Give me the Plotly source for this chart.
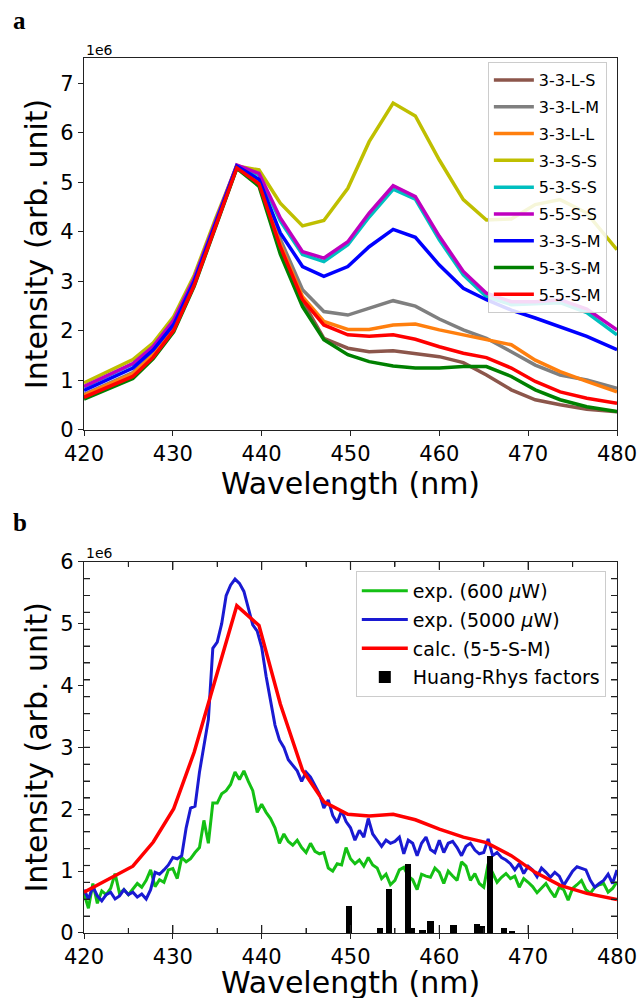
import plotly.graph_objects as go

# ---------------- panel a data (values in units of 1e6) ----------------
wl_calc = [420.0, 422.9, 425.5, 427.8, 430.1, 432.4, 434.8, 437.2, 439.7, 442.1, 444.6, 447.0,
           449.7, 452.1, 454.8, 457.3, 460.0, 462.7, 465.3, 468.1, 470.8, 473.6, 476.6, 480.0]

s_33LS = [0.68, 0.90, 1.11, 1.50, 2.04, 2.95, 4.14, 5.30, 4.97, 3.65, 2.60, 1.85,
          1.65, 1.58, 1.60, 1.55, 1.48, 1.36, 1.11, 0.81, 0.61, 0.51, 0.42, 0.37]
s_33LM = [0.72, 0.95, 1.16, 1.54, 2.08, 2.97, 4.16, 5.31, 5.00, 3.85, 2.83, 2.39,
          2.32, 2.46, 2.61, 2.50, 2.24, 2.02, 1.85, 1.58, 1.31, 1.11, 1.01, 0.84]
s_33LL = [0.70, 0.93, 1.14, 1.52, 2.06, 2.96, 4.15, 5.30, 4.98, 3.75, 2.69, 2.19,
          2.03, 2.03, 2.12, 2.14, 2.02, 1.92, 1.82, 1.72, 1.41, 1.18, 0.98, 0.77]
s_33SS = [0.95, 1.20, 1.42, 1.76, 2.29, 3.12, 4.26, 5.33, 5.25, 4.58, 4.12, 4.23,
          4.88, 5.82, 6.60, 6.34, 5.45, 4.65, 4.24, 4.26, 4.55, 4.65, 4.38, 3.64]
s_53SS = [0.87, 1.11, 1.33, 1.68, 2.21, 3.05, 4.21, 5.34, 5.15, 4.22, 3.54, 3.40,
          3.74, 4.30, 4.86, 4.66, 3.84, 3.13, 2.69, 2.53, 2.55, 2.57, 2.37, 1.92]
s_55SS = [0.88, 1.12, 1.34, 1.69, 2.22, 3.06, 4.22, 5.35, 5.18, 4.28, 3.60, 3.47,
          3.80, 4.38, 4.93, 4.71, 3.91, 3.20, 2.76, 2.59, 2.59, 2.63, 2.44, 2.02]
s_33SM = [0.80, 1.04, 1.25, 1.62, 2.13, 3.00, 4.18, 5.33, 5.06, 3.98, 3.30, 3.10,
          3.30, 3.70, 4.05, 3.89, 3.33, 2.86, 2.63, 2.42, 2.26, 2.09, 1.89, 1.62]
s_53SM = [0.62, 0.84, 1.04, 1.44, 1.98, 2.90, 4.10, 5.28, 4.92, 3.55, 2.49, 1.82,
          1.52, 1.38, 1.29, 1.25, 1.25, 1.28, 1.28, 1.08, 0.81, 0.61, 0.47, 0.37]
s_55SM = [0.66, 0.88, 1.08, 1.47, 2.01, 2.92, 4.12, 5.29, 4.97, 3.70, 2.63, 2.12,
          1.92, 1.89, 1.92, 1.83, 1.68, 1.55, 1.46, 1.25, 0.98, 0.77, 0.64, 0.54]

names_a = ["3-3-L-S", "3-3-L-M", "3-3-L-L", "3-3-S-S", "5-3-S-S",
           "5-5-S-S", "3-3-S-M", "5-3-S-M", "5-5-S-M"]
series_a = [s_33LS, s_33LM, s_33LL, s_33SS, s_53SS, s_55SS, s_33SM, s_53SM, s_55SM]
colors_a = ["#8c564b", "#7f7f7f", "#ff7f0e", "#bfbf00", "#00bfbf",
            "#bf00bf", "#0000ff", "#008000", "#ff0000"]

# ---------------- panel b data ----------------
wl_exp = [420.0 + 0.5 * i for i in range(121)]

exp_600 = [0.64, 0.40, 0.80, 0.48, 0.68, 0.62, 0.72, 0.96, 0.64, 0.70,
           0.62, 0.72, 0.80, 0.74, 0.85, 1.02, 0.75, 0.86, 0.82, 1.02,
           1.04, 0.88, 1.22, 1.15, 1.20, 1.30, 1.38, 1.82, 1.45, 2.10,
           2.10, 2.25, 2.30, 2.40, 2.60, 2.48, 2.62, 2.45, 2.30, 1.95,
           2.08, 1.95, 1.85, 1.70, 1.45, 1.60, 1.48, 1.42, 1.50, 1.38,
           1.30, 1.45, 1.32, 1.28, 1.30, 1.05, 1.00, 1.12, 1.10, 1.38,
           1.20, 1.12, 1.18, 1.08, 1.22, 1.10, 1.05, 0.88, 0.95, 0.78,
           0.85, 1.02, 1.06, 0.92, 0.86, 0.70, 0.95, 0.92, 0.90, 1.05,
           0.98, 0.80, 1.00, 0.92, 0.85, 1.15, 1.08, 0.85, 0.96, 0.80,
           0.74, 1.12, 0.96, 0.82, 0.90, 0.96, 0.88, 0.92, 0.74, 0.88,
           0.82, 0.75, 0.65, 0.72, 0.80, 0.68, 0.58, 0.74, 0.70, 0.53,
           0.72, 0.78, 0.85, 0.70, 0.64, 0.74, 0.78, 0.80, 0.66, 0.72,
           0.83]

exp_5000 = [0.70, 0.55, 0.75, 0.60, 0.52, 0.62, 0.66, 0.55, 0.60, 0.70,
            0.62, 0.66, 0.58, 0.63, 0.55, 0.70, 0.98, 0.95, 1.02, 1.10,
            1.22, 1.20, 1.25, 1.70, 2.02, 2.05, 2.60, 3.00, 3.45, 4.60,
            4.70, 5.00, 5.45, 5.62, 5.72, 5.65, 5.52, 5.25, 4.98, 4.88,
            4.62, 4.15, 3.72, 3.36, 3.12, 3.00, 2.80, 2.70, 2.62, 2.45,
            2.60, 2.52, 2.38, 2.25, 2.02, 2.15, 1.90, 1.78, 1.98, 1.80,
            1.70, 1.50, 1.66, 1.55, 1.85, 1.60, 1.50, 1.40, 1.50, 1.45,
            1.48, 1.55, 1.28, 1.50, 1.45, 1.25, 1.45, 1.55, 1.35, 1.30,
            1.50, 1.30, 1.45, 1.48, 1.38, 1.25, 1.40, 1.45, 1.34, 1.28,
            1.30, 1.52, 1.25, 1.30, 1.22, 1.18, 1.12, 1.02, 1.12, 0.96,
            1.08, 1.02, 0.91, 1.05, 0.98, 0.90, 0.98, 0.92, 0.77, 0.88,
            1.00, 1.07, 1.05, 1.02, 0.85, 0.74, 0.80, 0.85, 0.95, 0.80,
            1.02]

hr_wl = [449.8, 453.3, 454.3, 456.5, 456.9, 458.1, 459.0, 461.6, 464.2, 464.8, 465.7, 467.3, 468.2]
hr_val = [0.44, 0.08, 0.72, 1.12, 0.08, 0.06, 0.20, 0.13, 0.15, 0.12, 1.25, 0.09, 0.03]

FONT = "DejaVu Sans"
AX = "#222222"

fig = go.Figure()

for nm, ys, col in zip(names_a, series_a, colors_a):
    fig.add_trace(go.Scatter(x=wl_calc, y=ys, mode="lines", name=nm,
                             line=dict(color=col, width=3.5), legendgroup=nm,
                             xaxis="x", yaxis="y", legend="legend"))

fig.add_trace(go.Scatter(x=wl_exp, y=exp_600, mode="lines", name="exp. (600 <i>μ</i>W)",
                         line=dict(color="#14c014", width=3), xaxis="x2", yaxis="y2",
                         legendgroup="g600", legend="legend2"))
fig.add_trace(go.Scatter(x=wl_exp, y=exp_5000, mode="lines", name="exp. (5000 <i>μ</i>W)",
                         line=dict(color="#1a1ad2", width=3), xaxis="x2", yaxis="y2",
                         legendgroup="g5000", legend="legend2"))
fig.add_trace(go.Scatter(x=wl_calc, y=s_55SM, mode="lines", name="calc. (5-5-S-M)",
                         line=dict(color="#ff0000", width=3.5), xaxis="x2", yaxis="y2",
                         legendgroup="gcalc", legend="legend2"))
# bars on an overlay subplot so they are drawn above the spectra
fig.add_trace(go.Bar(x=hr_wl, y=hr_val, width=0.7, name="Huang-Rhys factors",
                     marker=dict(color="black", line=dict(width=0)),
                     xaxis="x3", yaxis="y3", legendgroup="ghr", legend="legend2"))

tickfont = dict(family=FONT, size=21, color="black")
titlefont = dict(family=FONT, size=30, color="black")

# plot area: top 58 px, bottom 933 px (height 875)
top_dom = [0.5749, 1.0]
bot_dom = [0.0, 0.4243]
PLOT_W = 533.0
BOT_H = 371.0

common = dict(showgrid=False, zeroline=False, automargin=False,
              ticks="outside", ticklen=5, tickwidth=1.2, tickcolor=AX,
              showline=True, linecolor=AX, linewidth=1.2, mirror=True,
              tickfont=tickfont)

# inward decorative ticks of panel b (drawn on all four sides)
shapes = []
n_ytick = 22
for k in range(1, n_ytick):
    yv = 6.0 * k / n_ytick
    for x0, x1 in ((0.0, 6 / PLOT_W), (1.0, 1 - 6 / PLOT_W)):
        shapes.append(dict(type="line", xref="x2 domain", yref="y2", x0=x0, x1=x1,
                           y0=yv, y1=yv, line=dict(color=AX, width=1.2), layer="above"))
for wv in range(425, 480, 5):
    ln = (8 if wv % 10 == 0 else 5) / BOT_H
    for y0, y1 in ((0.0, ln), (1.0, 1 - ln)):
        shapes.append(dict(type="line", xref="x2", yref="y2 domain", x0=wv, x1=wv,
                           y0=y0, y1=y1, line=dict(color=AX, width=1.2), layer="above"))

fig.update_layout(
    width=639, height=998,
    margin=dict(l=84, r=22, t=58, b=65),
    paper_bgcolor="white", plot_bgcolor="white",
    font=dict(family=FONT, color="black"),
    showlegend=True,
    xaxis=dict(domain=[0, 1], anchor="y", range=[420, 480], dtick=10, tick0=420,
               title=dict(text="Wavelength (nm)", font=titlefont, standoff=7), **common),
    yaxis=dict(domain=top_dom, anchor="x", range=[0, 7.51], dtick=1, tick0=0,
               title=dict(text="Intensity (arb. unit)", font=titlefont, standoff=3), **common),
    xaxis2=dict(domain=[0, 1], anchor="y2", range=[420, 480], dtick=10, tick0=420, **common),
    yaxis2=dict(domain=bot_dom, anchor="x2", range=[0, 6], dtick=1, tick0=0,
                title=dict(text="Intensity (arb. unit)", font=titlefont, standoff=3), **common),
    # overlay axes (frame + inward ticks) for panel b
    xaxis3=dict(domain=[0, 1], overlaying="x2", anchor="y3", side="top", range=[420, 480],
                dtick=10, tick0=420, ticks="inside", ticklen=8, tickwidth=1.2, tickcolor=AX,
                minor=dict(dtick=5, tick0=420, ticks="inside", ticklen=5, tickwidth=1.2, tickcolor=AX),
                mirror="ticks", showline=True, linecolor=AX, linewidth=1.2,
                showticklabels=False, showgrid=False, zeroline=False, layer="above traces"),
    yaxis3=dict(domain=bot_dom, overlaying="y2", anchor="x3", side="left", range=[0, 6],
                dtick=6 / 22, tick0=0, ticks="inside", ticklen=6, tickwidth=1.2, tickcolor=AX,
                mirror="ticks", showline=True, linecolor=AX, linewidth=1.2,
                showticklabels=False, showgrid=False, zeroline=False, layer="above traces"),
    legend=dict(x=0.981, y=0.9954, xanchor="right", yanchor="top",
                bgcolor="rgba(255,255,255,0.85)", bordercolor="#cccccc", borderwidth=1,
                font=dict(family=FONT, size=16, color="black"),
                itemwidth=40, tracegroupgap=3),
    legend2=dict(x=0.979, y=0.4137, xanchor="right", yanchor="top",
                 bgcolor="rgba(255,255,255,0.85)", bordercolor="#cccccc", borderwidth=1,
                 font=dict(family=FONT, size=19, color="black"),
                 itemwidth=46, tracegroupgap=1),
    bargap=0,
    shapes=shapes,
    annotations=[
        dict(text="Wavelength (nm)", xref="paper", yref="paper", x=0.5, y=-0.0571,
             xanchor="center", yanchor="middle", showarrow=False, font=titlefont),
        dict(text="1e6", xref="paper", yref="paper", x=0.0, y=1.0091,
             xanchor="left", yanchor="middle", showarrow=False,
             font=dict(family=FONT, size=14, color="black")),
        dict(text="1e6", xref="paper", yref="paper", x=0.0, y=0.4343,
             xanchor="left", yanchor="middle", showarrow=False,
             font=dict(family=FONT, size=14, color="black")),
        dict(text="<b>a</b>", xref="paper", yref="paper", x=-0.137, y=1.0423,
             xanchor="left", yanchor="middle", showarrow=False,
             font=dict(family="Liberation Serif", size=25, color="black")),
        dict(text="<b>b</b>", xref="paper", yref="paper", x=-0.137, y=0.4697,
             xanchor="left", yanchor="middle", showarrow=False,
             font=dict(family="Liberation Serif", size=25, color="black")),
    ],
)

fig.write_html("out.html")
